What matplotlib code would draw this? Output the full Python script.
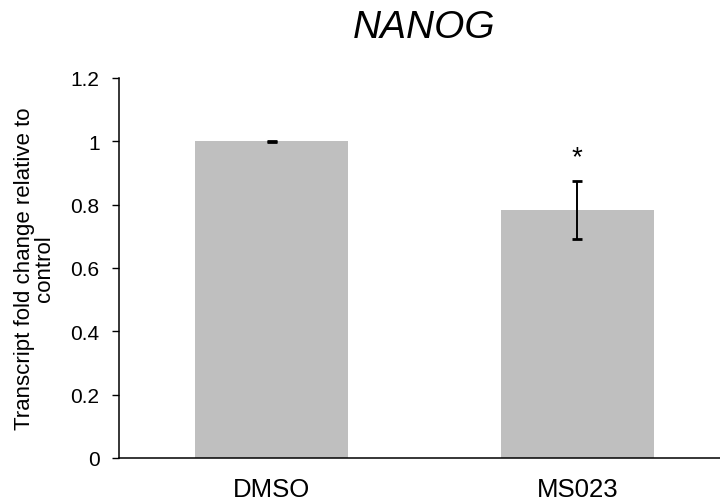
import matplotlib
matplotlib.use("Agg")
import matplotlib.pyplot as plt

plt.rcParams['font.family'] = ['Liberation Sans', 'DejaVu Sans']

# Data
categories = ["DMSO", "MS023"]
fold_change = [1.0, 0.783]
sem = [0.002, 0.091]
significance = ["", "*"]
y_ticks = [0, 0.2, 0.4, 0.6, 0.8, 1, 1.2]
y_tick_labels = ["0", "0.2", "0.4", "0.6", "0.8", "1", "1.2"]

fig = plt.figure(figsize=(7.2, 5.02), dpi=100)
ax = fig.add_axes([119 / 720, 43 / 502, 611 / 720, 380 / 502])

x = list(range(len(categories)))
ax.bar(x, fold_change, width=0.5, color="#bfbfbf", zorder=2)
ax.errorbar(x, fold_change, yerr=sem, fmt="none", ecolor="black",
            elinewidth=1.4, capsize=3.5, capthick=2.0, zorder=3)

for xi, val, err, sig in zip(x, fold_change, sem, significance):
    if sig:
        ax.text(xi, val + err + 0.035, sig, ha="center", va="bottom",
                fontsize=20, color="black")

ax.set_xlim(-0.5, 1.5)
ax.set_ylim(0, 1.2)
ax.set_xticks(x)
ax.set_xticklabels(categories, fontsize=18.5)
ax.set_yticks(y_ticks)
ax.set_yticklabels(y_tick_labels, fontsize=15)
ax.tick_params(axis="x", length=0, pad=14)
ax.tick_params(axis="y", direction="out", length=5, width=1.0, pad=9)

for side in ("top", "right"):
    ax.spines[side].set_visible(False)
for side in ("left", "bottom"):
    ax.spines[side].set_linewidth(1.1)
    ax.spines[side].set_color("black")

ax.set_ylabel("Transcript fold change relative to\ncontrol", fontsize=16,
              linespacing=0.95, labelpad=11)

fig.text(424 / 720, 1 - 28 / 502, "NANOG", fontsize=28, style="italic",
         ha="center", va="center")

fig.savefig("out.png", dpi=100)
